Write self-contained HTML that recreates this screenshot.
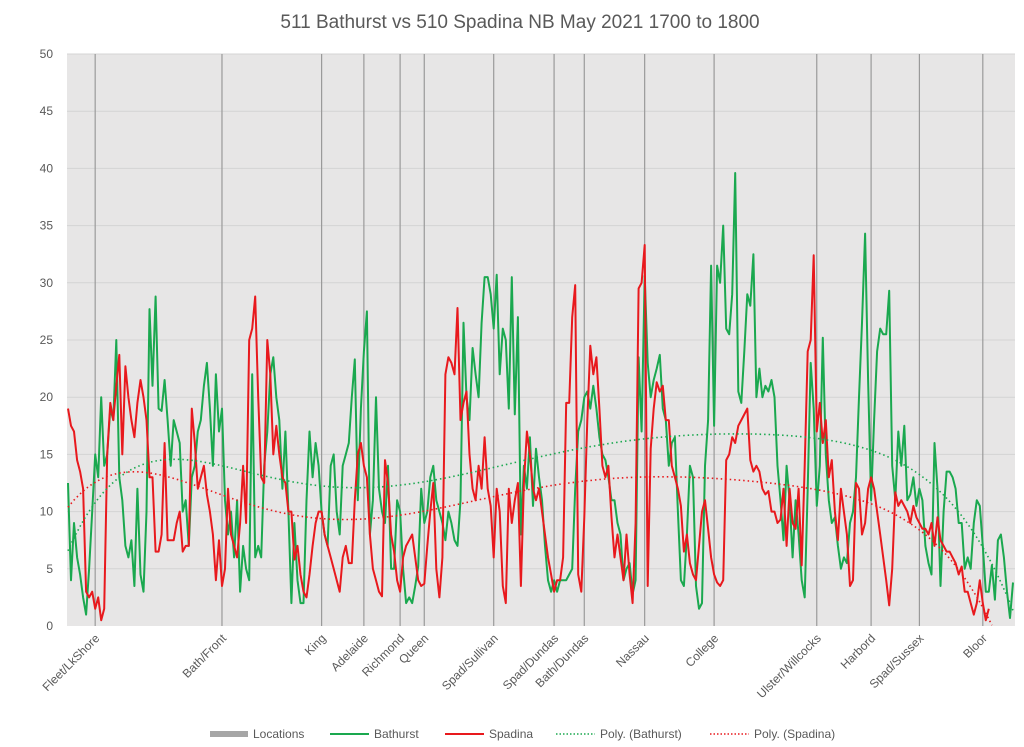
<!DOCTYPE html>
<html><head><meta charset="utf-8"><style>
body{margin:0;background:#fff;font-family:"Liberation Sans",sans-serif}
svg text{font-family:"Liberation Sans",sans-serif;fill:#595959}
</style></head><body>
<svg id="chart" width="1024" height="742" viewBox="0 0 1024 742" xmlns="http://www.w3.org/2000/svg">
<text x="520" y="28" text-anchor="middle" font-size="19">511 Bathurst vs 510 Spadina NB May 2021 1700 to 1800</text>
<rect x="67" y="54" width="948" height="572" fill="#e7e6e6"/>
<g id="grid"></g><g id="locs"></g><g id="series"></g><g id="labels"></g>
<g font-size="12">
<rect x="210" y="731" width="38" height="6" fill="#a6a6a6"/>
<text x="253" y="738">Locations</text>
<line x1="330" y1="734" x2="369" y2="734" stroke="#1aa84f" stroke-width="2"/>
<text x="374" y="738">Bathurst</text>
<line x1="445" y1="734" x2="484" y2="734" stroke="#e8191d" stroke-width="2"/>
<text x="489" y="738">Spadina</text>
<line x1="556" y1="734" x2="595" y2="734" stroke="#1aa84f" stroke-width="1.5" stroke-dasharray="1.5,2"/>
<text x="600" y="738">Poly. (Bathurst)</text>
<line x1="710" y1="734" x2="749" y2="734" stroke="#e8191d" stroke-width="1.5" stroke-dasharray="1.5,2"/>
<text x="754" y="738">Poly. (Spadina)</text>
</g>
</svg>
<script>
const yTicks=[0,5,10,15,20,25,30,35,40,45,50];
const locationNames=["Fleet/LkShore","Bath/Front","King","Adelaide","Richmond","Queen","Spad/Sullivan","Spad/Dundas","Bath/Dundas","Nassau","College","Ulster/Willcocks","Harbord","Spad/Sussex","Bloor"];
const locationIdx=[9,51,84,98,110,118,141,161,171,191,214,248,266,282,303];
const bathurst=[12.5,4,9,6,4.5,2.5,1,5,10,15,13,20,14,15,
19,18,25,13,11,7,6,7.5,3.5,12,4.5,3,10,27.7,21,28.8,19,18.8,21.5,18,14,18,17,16,10,11,7,13,14,17,18,21,23,19,14,22,17,19,11,8,10,6,11,3,7,5,4,22,6,7,6,14,17,22,23.5,20,18,12,17,10,2,9,4,2,2,11,17,13,16,14,10,8,7,14,15,10,8,14,15,16,20,23.3,11,19,24,27.5,8,11,20,12,10,9,14,5,5,11,10,5,2,2.5,2,3.5,5.2,12,9,10,13,14,11,10,9,7.5,10,9,7.5,7,11,26.5,20,18,24.3,22,20,26.5,30.5,30.5,29,26,30.7,22,26,25,19,30.5,18.5,27,8,14,12,16.5,10.5,15.5,13,11,7,4,3,4,3,4,4,4,4.5,5,12,17,18,20,20.5,19,21,19,16.5,15,14.5,13,11,11,9,8,4,5,5.5,2.8,4,23.5,17,30.6,23,20,21.5,22.5,23.7,19,18,14,16,16.5,10,4,3.5,8,14,13,3.5,1.5,2,14,18,31.5,17.5,31.5,30,35,26,25.5,29,39.6,20.5,19.5,24,29,28,32.5,20,22.5,20,21,20.5,21.5,20,14,11,7.5,14,11,6,11,8,4,2.5,12,23,19,10.5,14,25.2,15,11,9,9.5,7,5,6,5.5,9,10,13,20,26.5,34.3,21.5,11,18,24,26,25.5,25.5,29.3,14,11,17,14,17.5,11,11.5,13,10.5,12,11,7,5.5,4.5,16,12,3.5,10,13.5,13.5,13,12,9,9,5,6,5,9,11,10.5,7,3,3,5.3,2.3,7.5,8,6,3,0.7,3.8];
const spadina=[19,17.5,17,14.5,13.5,12,3,2.5,3,1.5,2.5,0.5,1.5,15,19.5,18,21,23.7,15,22.7,20,18,16.5,19.5,21.5,20,18,13,13,6.5,6.5,8,16,7.5,7.5,7.5,9,10,6.5,7,7,19,16,12,13,14,11.5,10,8,4,7.5,3.5,5,12,8,7,6,9,14,9,25,26,28.8,20,13,12.5,25,22,15,17.5,15,13,12.5,10,10,5.8,7,4.5,3,2.5,4.5,7,9,10,10,8,7,6,5,4,3,6,7,5.5,5.5,11,15,16,14,13,8,5,4,3,2.6,14.5,12.5,8,6.5,4,3,6,7,7.5,8,6,4,3.5,3.7,7,10,12.5,5,2.5,6,22,23.5,23,22,27.8,18,19.5,20.5,15,12,11,14,12,16.5,12,10.5,6,12,10,3.5,2,12,9,11,12.5,3.5,12.5,17,15,12,11,12,10,8,6,4.5,3,4,4,6,19.5,19.5,27,29.8,4.5,3,9.5,18,24.5,22,23.5,19,14,13,14,9.5,6,8,6,4,8,4.5,2,9,29.5,30,33.3,3.5,15.5,19,21.3,20.5,21,18,18,14,13,12,10.5,6.5,8,5.5,4.5,4,7,10,11,8.5,6,4.5,3.8,3.5,4,14.5,15,16.5,16,17.5,18,18.5,19,14.5,13.5,14,13.5,12,11.5,11.8,10,10,9,9.3,12,7,12,9,8.5,12,5.3,14,24,25,32.4,17,19.5,16,18,13,14.5,10,7.5,12,10,8,3.5,4,12.5,12,8,9,12,13,12,10,8,6,4,1.8,5,11.7,10.5,11,10.5,10,9,10.5,9.5,9,8.5,8.5,8,9,7,9.5,7.5,7,6.5,6.5,6,5.5,4.5,5.2,3,3,2,1,2,4,2,0.5,1.5];

const NS="http://www.w3.org/2000/svg";
const X0=68,X1=1013,Y0=626,Y1=54,IMAX=bathurst.length-1;
const xs=i=>X0+(X1-X0)*i/IMAX;
const ys=v=>Y0-(Y0-Y1)*v/50;
function mk(tag,attrs,parent){const e=document.createElementNS(NS,tag);for(const k in attrs)e.setAttribute(k,attrs[k]);parent.appendChild(e);return e;}
const grid=document.getElementById('grid');
yTicks.forEach(t=>{
  if(t>0){const l=mk('line',{x1:67,x2:1015,y1:ys(t),y2:ys(t),stroke:'#d4d4d4','stroke-width':1},grid);
  
  }
  const tx=mk('text',{x:53,y:ys(t)+4,'text-anchor':'end','font-size':12},grid);
  
  
  tx.textContent=t;
});
const locs=document.getElementById('locs'),labels=document.getElementById('labels');
locationIdx.forEach((idx,k)=>{
  const x=xs(idx);
  const l=mk('line',{x1:x,x2:x,y1:54,y2:626,stroke:'#9a9a9a','stroke-width':1.2},locs);
  
  
  const t=mk('text',{x:0,y:0,'text-anchor':'end','font-size':12,transform:`translate(${x+5},${639}) rotate(-45)`},labels);
  
  
  t.textContent=locationNames[k];
});
const ser=document.getElementById('series');
function line(arr,color,name){
  const d=arr.map((v,i)=>(i?'L':'M')+xs(i).toFixed(1)+','+ys(v).toFixed(1)).join('');
  const p=mk('path',{d:d,fill:'none',stroke:color,'stroke-width':2,'stroke-linejoin':'round'},ser);
  
  
}
function polyfit(arr,deg){
  const n=arr.length,m=deg+1,A=[];
  for(let r=0;r<m;r++){A.push(new Array(m+1).fill(0));}
  arr.forEach((v,i)=>{const t=2*i/IMAX-1;const p=[];for(let k=0;k<2*m;k++)p.push(Math.pow(t,k));
    for(let r=0;r<m;r++){for(let c=0;c<m;c++)A[r][c]+=p[r+c];A[r][m]+=v*p[r];}});
  for(let c=0;c<m;c++){let piv=c;for(let r=c+1;r<m;r++)if(Math.abs(A[r][c])>Math.abs(A[piv][c]))piv=r;
    [A[c],A[piv]]=[A[piv],A[c]];
    for(let r=0;r<m;r++){if(r===c)continue;const f=A[r][c]/A[c][c];for(let k=c;k<=m;k++)A[r][k]-=f*A[c][k];}}
  return A.map((row,r)=>row[m]/row[r]);
}
function trend(arr,color,name,extend){
  const co=polyfit(arr,6);const f=t=>co.reduce((s,c,k)=>s+c*Math.pow(t,k),0);
  let d='';const end=arr.length-1+extend;
  for(let i=0;i<=end;i+=0.5){const v=f(2*i/IMAX-1);if(v<0)break;d+=(d?'L':'M')+xs(i).toFixed(1)+','+ys(v).toFixed(1);}
  const p=mk('path',{d:d,fill:'none',stroke:color,'stroke-width':1.6,'stroke-dasharray':'1.5,3'},ser);
  
  
}
line(bathurst,'#1aa84f','bathurst-line');
line(spadina,'#e8191d','spadina-line');
trend(bathurst,'#1aa84f','poly-bathurst-trend',0);
trend(spadina,'#e8191d','poly-spadina-trend',6);
</script>
</body></html>
